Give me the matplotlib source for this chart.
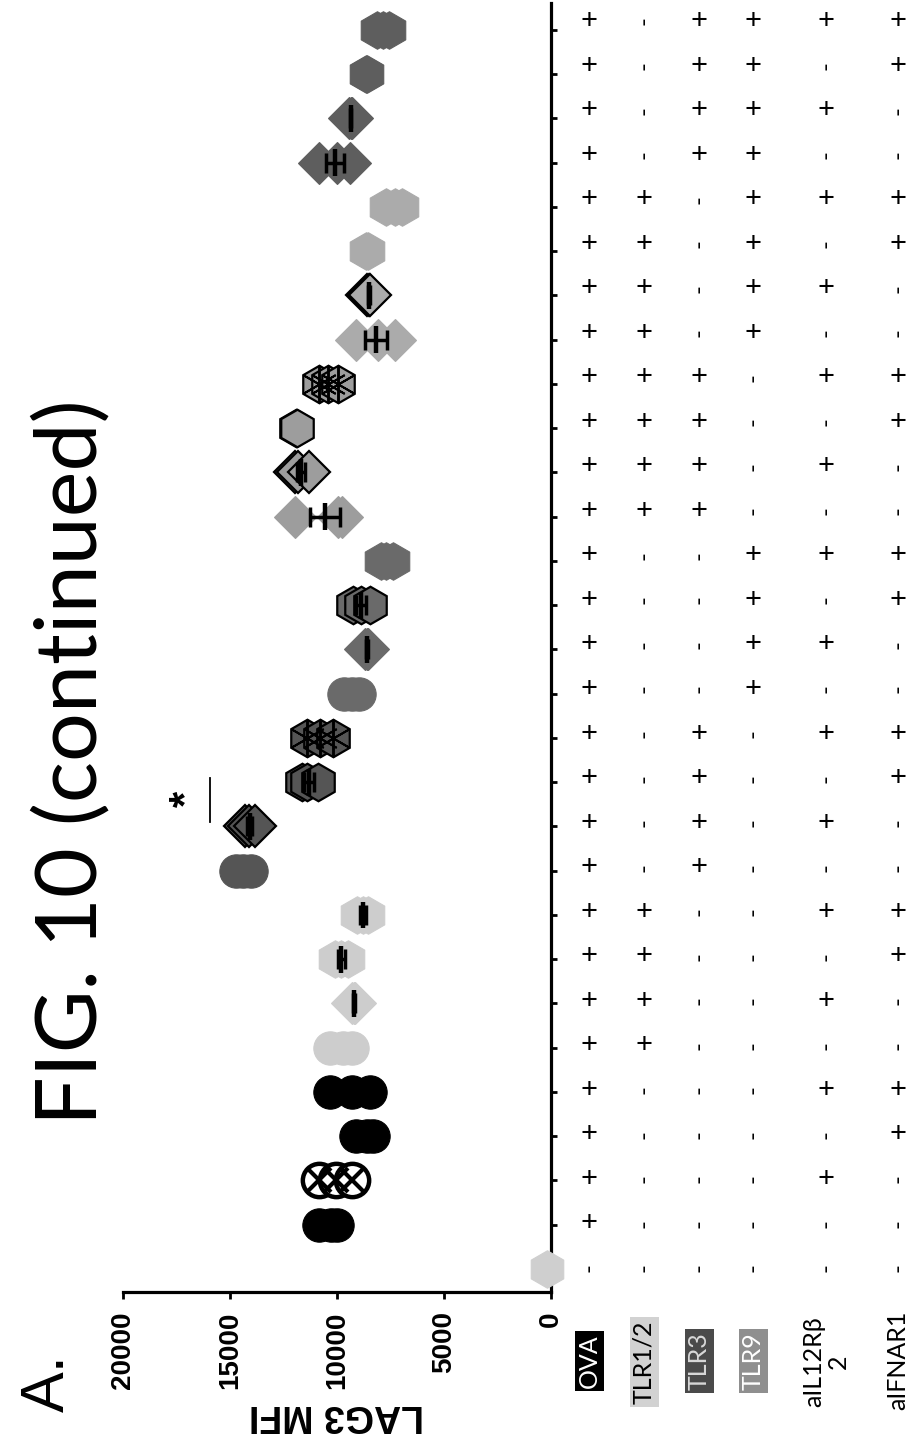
import numpy as np
import matplotlib
matplotlib.use("Agg")
import matplotlib.pyplot as plt

# ---------------------------------------------------------------------------
# Treatment table: one entry per group, listed from the bottom group upwards
# (1 = treatment given, 0 = not given)
# ---------------------------------------------------------------------------
ova      = [0, 1, 1, 1, 1, 1, 1, 1, 1, 1, 1, 1, 1, 1, 1, 1, 1, 1, 1, 1, 1, 1, 1, 1, 1, 1, 1, 1, 1]
tlr12    = [0, 0, 0, 0, 0, 1, 1, 1, 1, 0, 0, 0, 0, 0, 0, 0, 0, 1, 1, 1, 1, 1, 1, 1, 1, 0, 0, 0, 0]
tlr3     = [0, 0, 0, 0, 0, 0, 0, 0, 0, 1, 1, 1, 1, 0, 0, 0, 0, 1, 1, 1, 1, 0, 0, 0, 0, 1, 1, 1, 1]
tlr9     = [0, 0, 0, 0, 0, 0, 0, 0, 0, 0, 0, 0, 0, 1, 1, 1, 1, 0, 0, 0, 0, 1, 1, 1, 1, 1, 1, 1, 1]
ail12rb2 = [0, 0, 1, 0, 1, 0, 1, 0, 1, 0, 1, 0, 1, 0, 1, 0, 1, 0, 1, 0, 1, 0, 1, 0, 1, 0, 1, 0, 1]
aifnar1  = [0, 0, 0, 1, 1, 0, 0, 1, 1, 0, 0, 1, 1, 0, 0, 1, 1, 0, 0, 1, 1, 0, 0, 1, 1, 0, 0, 1, 1]

row_names = ["OVA", "TLR1/2", "TLR3", "TLR9", "aIL12R\u03b2\n2", "aIFNAR1"]

# LAG3 MFI of the replicate wells in each group (same order as the table)
lag3_mfi = [
    [200],
    [10850, 10300, 10000],
    [10850, 10050, 9300],
    [9100, 8600, 8300],
    [10350, 9300, 8450],
    [10350, 9700, 9300],
    [9300, 9200, 9150],
    [10100, 9800, 9500],
    [9050, 8800, 8550],
    [14700, 14400, 14000],
    [14300, 14100, 13850],
    [11650, 11400, 10900],
    [11400, 10800, 10200],
    [9650, 9300, 8950],
    [8700, 8600, 8550],
    [9250, 8900, 8450],
    [7950, 7700, 7400],
    [11950, 9950, 9750],
    [11950, 11800, 11300],
    [11900, 11850],
    [10850, 10400, 9950],
    [9100, 8100, 7300],
    [8600, 8500, 8450],
    [8650, 8550],
    [7700, 7300, 6950],
    [10850, 10000, 9400],
    [9450, 9350, 9300],
    [8650, 8600],
    [8150, 7850, 7550],
]

# significance bracket between two neighbouring groups
sig_groups = (10, 11)
sig_label = "*"

value_ticks = [0, 5000, 10000, 15000, 20000]

# ---------------------------------------------------------------------------
# Styling helpers
# ---------------------------------------------------------------------------
def group_fill(i):
    key = (ova[i], tlr12[i], tlr3[i], tlr9[i])
    fills = {
        (0, 0, 0, 0): "#cfcfcf",
        (1, 0, 0, 0): "#000000",
        (1, 1, 0, 0): "#cdcdcd",
        (1, 0, 1, 0): "#555555",
        (1, 0, 0, 1): "#6a6a6a",
        (1, 1, 1, 0): "#9d9d9d",
        (1, 1, 0, 1): "#ababab",
        (1, 0, 1, 1): "#5e5e5e",
    }
    return fills[key]

# symbol drawn for each group
symbols = ["h", "o", "ox", "o", "o", "o", "D", "h", "h",
           "o", "D", "h", "hx", "o", "D", "h", "h",
           "D", "D", "h", "hx", "D", "D", "h", "h",
           "D", "D", "h", "h"]
outlined = {10, 11, 15, 18, 19, 22}
mean_on_top = {6, 7, 8, 10, 11, 14, 15, 17, 18, 21, 22, 25, 26}

W, H = 914, 1439
fig = plt.figure(figsize=(W / 100, H / 100), dpi=100)
plt.rcParams["font.family"] = ["Liberation Sans", "DejaVu Sans"]

# main axes: value axis runs horizontally (reversed), groups stacked vertically
ax_l, ax_r, ax_b, ax_t = 123, 551, 1292, 3
ax = fig.add_axes([ax_l / W, 1 - ax_b / H, (ax_r - ax_l) / W, (ax_b - ax_t) / H])
n = len(lag3_mfi)
ax.set_xlim(20000, 0)
ax.set_ylim(-0.52, 28.61)

for side in ("left", "top"):
    ax.spines[side].set_visible(False)
for side in ("bottom", "right"):
    ax.spines[side].set_linewidth(2.3)
ax.yaxis.tick_right()
ax.set_yticks(range(n))
ax.set_yticklabels([])
ax.tick_params(axis="y", direction="out", length=4, width=2)
ax.set_xticks(value_ticks)
ax.set_xticklabels([str(v) for v in value_ticks], rotation=90,
                   fontsize=20, fontweight="bold")
ax.tick_params(axis="x", direction="out", length=5, width=2, pad=9)
ax.set_xlabel("LAG3 MFI", fontsize=27, fontweight="bold", rotation=180,
              labelpad=6)

ms = {"o": 24, "h": 27, "D": 21}
for i, vals in enumerate(lag3_mfi):
    vals = np.asarray(vals, dtype=float)
    y = np.full(len(vals), i)
    fill = group_fill(i)
    sym = symbols[i]
    base = sym[0]
    z = 3
    if sym == "ox":
        ax.plot(vals, y, ls="none", marker="o", ms=ms["o"], mfc="white",
                mec="black", mew=3.2, zorder=z, clip_on=False)
        ax.plot(vals, y, ls="none", marker="x", ms=ms["o"] * 0.72,
                mec="black", mew=3.0, zorder=z + 0.1, clip_on=False)
    else:
        edge = "black" if (i in outlined or sym == "hx") else fill
        ax.plot(vals, y, ls="none", marker=base, ms=ms[base], mfc=fill,
                mec=edge, mew=1.6 if edge == "black" else 0.8,
                zorder=z, clip_on=False)
        if sym == "hx":
            ax.plot(vals, y, ls="none", marker=(6, 2, 0), ms=ms["h"],
                    mec="black", mew=1.4, zorder=z + 0.1, clip_on=False)

    # mean line with SEM bar
    if len(vals) > 1:
        m = vals.mean()
        sem = vals.std(ddof=1) / np.sqrt(len(vals))
        zl = 5 if i in mean_on_top else 1
        ax.plot([m, m], [i - 0.3, i + 0.3], color="black", lw=3.2,
                solid_capstyle="butt", zorder=zl)
        ax.errorbar(m, i, xerr=sem, fmt="none", ecolor="black",
                    elinewidth=2.5, capsize=7, capthick=2.5, zorder=zl)

# significance mark
top_val = max(max(lag3_mfi[sig_groups[0]]), max(lag3_mfi[sig_groups[1]]))
bar_x = top_val + 1650
ax.plot([bar_x, bar_x], [sig_groups[0] + 0.1, sig_groups[1] + 0.1],
        color="black", lw=1.3, zorder=4)
ax.text(bar_x + 1050, np.mean(sig_groups) + 0.12, sig_label, rotation=90,
        ha="center", va="center", fontsize=30, fontweight="bold")

# ---------------------------------------------------------------------------
# Treatment table to the right of the category axis
# ---------------------------------------------------------------------------
tab = fig.add_axes([560 / W, 1 - ax_b / H, (W - 560) / W, (ax_b - ax_t) / H])
tab.set_xlim(560, W)
tab.set_ylim(-0.539, 28.404)
tab.axis("off")
col_x = [589, 644, 699, 753, 826, 898]
columns = [ova, tlr12, tlr3, tlr9, ail12rb2, aifnar1]
for cx, col in zip(col_x, columns):
    for i, flag in enumerate(col):
        if flag:
            tab.text(cx, i, "+", ha="center", va="center", fontsize=21,
                     family=["Lato", "DejaVu Sans"])
        else:
            tab.text(cx, i, "-", ha="center", va="center", fontsize=17,
                     rotation=90, family=["Lato", "DejaVu Sans"])

# row labels under the table
label_style = [
    dict(color="white", bbox=dict(boxstyle="square,pad=0.12", fc="black", ec="none")),
    dict(color="black", bbox=dict(boxstyle="square,pad=0.12", fc="#d2d2d2", ec="none")),
    dict(color="#d8d8d8", bbox=dict(boxstyle="square,pad=0.12", fc="#4a4a4a", ec="none")),
    dict(color="white", bbox=dict(boxstyle="square,pad=0.12", fc="#8f8f8f", ec="none")),
    dict(color="black"),
    dict(color="black"),
]
label_y = [1361, 1362, 1361, 1361, 1362, 1360]
for cx, ly, name, st in zip(col_x, label_y, row_names, label_style):
    fig.text(cx / W, 1 - ly / H, name, rotation=90, ha="center", va="center",
             fontsize=18, family=["Lato", "DejaVu Sans"], linespacing=1.05,
             multialignment="center", **st)

# figure headings
fig.text(72 / W, 1 - 762 / H, "FIG. 10 (continued)", rotation=90,
         ha="center", va="center", fontsize=62, family=["Lato", "DejaVu Sans"])
fig.text(48 / W, 1 - 1383 / H, "A.", rotation=90, ha="center", va="center",
         fontsize=44, family=["Liberation Sans", "DejaVu Sans"])

fig.savefig("out.png", dpi=100)
